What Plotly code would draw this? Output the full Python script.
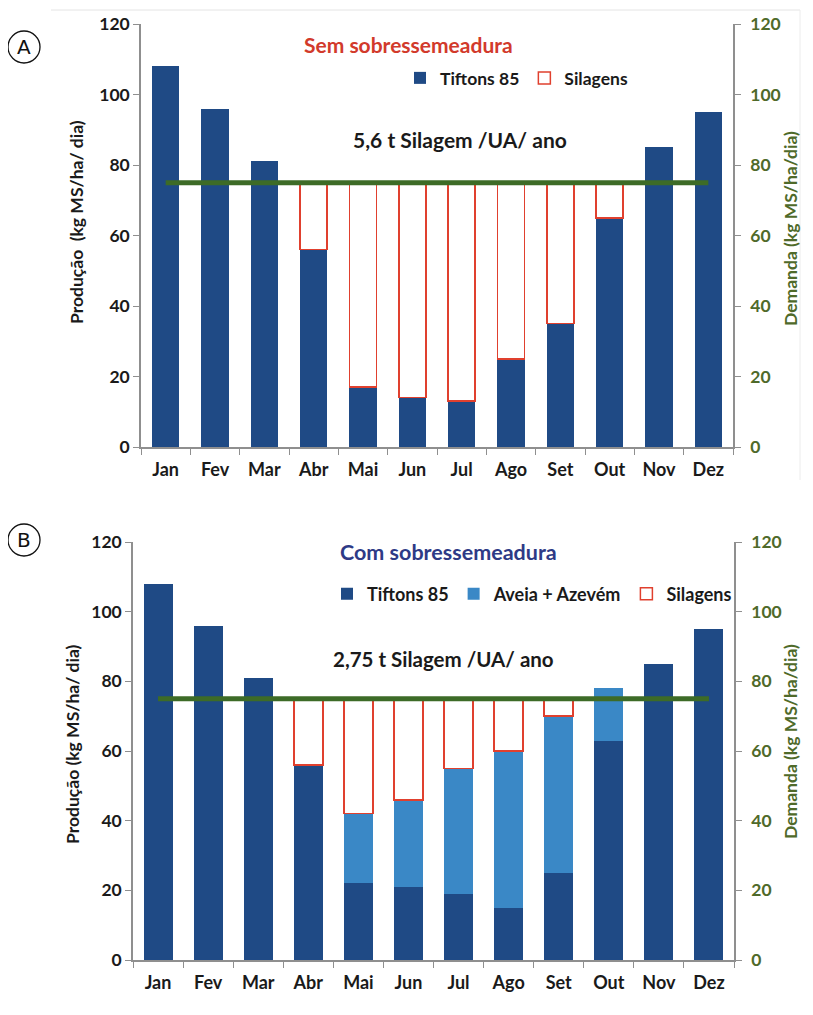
import plotly.graph_objects as go

months = ["Jan", "Fev", "Mar", "Abr", "Mai", "Jun", "Jul", "Ago", "Set", "Out", "Nov", "Dez"]

# Panel A - Sem sobressemeadura
tifton_a = [108, 96, 81, 56, 17, 14, 13, 25, 35, 65, 85, 95]
silagem_a = [0, 0, 0, 19, 58, 61, 62, 50, 40, 10, 0, 0]
demanda_a = [75] * 12

# Panel B - Com sobressemeadura
tifton_b = [108, 96, 81, 56, 22, 21, 19, 15, 25, 63, 85, 95]
aveia_b = [0, 0, 0, 0, 20, 25, 36, 45, 45, 15, 0, 0]
silagem_b = [0, 0, 0, 19, 33, 29, 20, 15, 5, 0, 0, 0]
demanda_b = [75] * 12

FONT = "Lato"
NAVY = "#1f4a85"
LIGHT = "#3a88c6"
RED = "#e0402e"
GREEN = "#3d6b27"
GTXT = "#4f6a2a"
AXC = "#8f8f8f"

fig = go.Figure()

def nz(v):
    return [None if x == 0 else x for x in v]

# Panel A
fig.add_trace(go.Bar(x=months, y=tifton_a, name="Tiftons 85", marker=dict(color=NAVY, line=dict(width=0)),
                     width=0.55, xaxis="x", yaxis="y", legend="legend"))
fig.add_trace(go.Bar(x=months, y=nz(silagem_a), name="Silagens",
                     marker=dict(color="white", line=dict(color=RED, width=1.5)),
                     width=0.55, xaxis="x", yaxis="y", legend="legend"))
fig.add_trace(go.Scatter(x=months, y=demanda_a, mode="lines", line=dict(color=GREEN, width=5),
                         showlegend=False, xaxis="x", yaxis="y2"))

# Panel B
fig.add_trace(go.Bar(x=months, y=tifton_b, name="Tiftons 85", marker=dict(color=NAVY, line=dict(width=0)),
                     width=0.58, xaxis="x2", yaxis="y3", legend="legend2"))
fig.add_trace(go.Bar(x=months, y=nz(aveia_b), name="Aveia + Azevém", marker=dict(color=LIGHT, line=dict(width=0)),
                     width=0.58, xaxis="x2", yaxis="y3", legend="legend2"))
fig.add_trace(go.Bar(x=months, y=nz(silagem_b), name="Silagens",
                     marker=dict(color="white", line=dict(color=RED, width=1.5)),
                     width=0.58, xaxis="x2", yaxis="y3", legend="legend2"))
fig.add_trace(go.Scatter(x=months, y=demanda_b, mode="lines", line=dict(color=GREEN, width=5),
                         showlegend=False, xaxis="x2", yaxis="y4"))

W, H = 813, 1015
OFF = 8  # page body margin
def px(x):
    return (x - OFF) / W
def py(y):
    return 1 - (y - OFF) / H

xcommon = dict(type="category", showline=True, linecolor=AXC, linewidth=1.5, ticks="outside",
               tickson="boundaries", ticklen=6, tickcolor=AXC, showgrid=False, zeroline=False,
               automargin=False, ticklabelstandoff=6,
               tickfont=dict(family=FONT, size=18, color="#1a1a1a", weight="bold"), fixedrange=True)
ycommon = dict(range=[0, 120], dtick=20, showline=True, linecolor=AXC, linewidth=1.5, ticks="outside",
               ticklen=6, tickcolor=AXC, showgrid=False, zeroline=False, fixedrange=True, automargin=False)
yleft_font = dict(family=FONT, size=17.5, color="#1a1a1a", weight="bold")
yright_font = dict(family=FONT, size=17.5, color=GTXT, weight="bold")

fig.update_layout(
    width=W, height=H,
    margin=dict(l=0, r=0, t=0, b=0),
    paper_bgcolor="white", plot_bgcolor="white",
    barmode="stack",
    font=dict(family=FONT),
    xaxis=dict(domain=[px(141), px(733)], anchor="y", **xcommon),
    yaxis=dict(domain=[py(447), py(24)], anchor="x", tickfont=yleft_font, **ycommon),
    yaxis2=dict(overlaying="y", side="right", anchor="x", tickfont=yright_font, ticklabelstandoff=6, **ycommon),
    xaxis2=dict(domain=[px(133), px(734)], anchor="y3", **xcommon),
    yaxis3=dict(domain=[py(960), py(542)], anchor="x2", tickfont=yleft_font, **ycommon),
    yaxis4=dict(overlaying="y3", side="right", anchor="x2", tickfont=yright_font, ticklabelstandoff=6, **ycommon),
    legend=dict(orientation="h", x=px(400), y=py(78), xanchor="left", yanchor="middle",
                font=dict(family=FONT, size=17.5, color="#1a1a1a", weight="bold"),
                bgcolor="rgba(0,0,0,0)", itemwidth=30, traceorder="normal"),
    legend2=dict(orientation="h", x=px(327), y=py(594), xanchor="left", yanchor="middle",
                 font=dict(family=FONT, size=18, color="#1a1a1a", weight="bold"),
                 bgcolor="rgba(0,0,0,0)", itemwidth=30, traceorder="normal"),
    showlegend=True,
)

ann = []
def add_text(text, x, y, size, color, angle=0):
    ann.append(dict(text=text, x=px(x), y=py(y), xref="paper", yref="paper", showarrow=False,
                    xanchor="center", yanchor="middle", textangle=angle,
                    font=dict(family=FONT, size=size, color=color, weight="bold")))

add_text("Sem sobressemeadura", 408, 45, 21, "#d23a2b")
add_text("5,6 t Silagem /UA/ ano", 460, 140, 21, "#1a1a1a")
add_text("Produção  (kg MS/ha/ dia)", 76, 222, 17.5, "#1a1a1a", -90)
add_text("Demanda (kg MS/ha/dia)", 790, 229, 17.5, GTXT, -90)
add_text("Com sobressemeadura", 448, 552, 21.5, "#2e3a86")
add_text("2,75 t Silagem /UA/ ano", 443, 659, 20.5, "#1a1a1a")
add_text("Produção (kg MS/ha/ dia)", 72, 744, 17.5, "#1a1a1a", -90)
add_text("Demanda (kg MS/ha/dia)", 790, 742, 17.5, GTXT, -90)

ann.append(dict(text="A", x=px(24), y=py(47), xref="paper", yref="paper", showarrow=False,
                font=dict(family="DejaVu Sans", size=20, color="#111"), xanchor="center", yanchor="middle"))
ann.append(dict(text="B", x=px(24), y=py(540), xref="paper", yref="paper", showarrow=False,
                font=dict(family="DejaVu Sans", size=20, color="#111"), xanchor="center", yanchor="middle"))
fig.update_layout(annotations=ann)

shapes = [
    dict(type="circle", xref="paper", yref="paper", x0=px(8), x1=px(40), y0=py(63), y1=py(31),
         line=dict(color="#111", width=1.3)),
    dict(type="circle", xref="paper", yref="paper", x0=px(8), x1=px(40), y0=py(556), y1=py(524),
         line=dict(color="#111", width=1.3)),
    dict(type="line", xref="paper", yref="paper", x0=px(51), x1=px(800), y0=py(10), y1=py(10),
         line=dict(color="#e4e4e4", width=1)),
    dict(type="line", xref="paper", yref="paper", x0=px(800), x1=px(800), y0=py(10), y1=py(480),
         line=dict(color="#ececec", width=1)),
]
fig.update_layout(shapes=shapes)

fig.write_html("out.html")
